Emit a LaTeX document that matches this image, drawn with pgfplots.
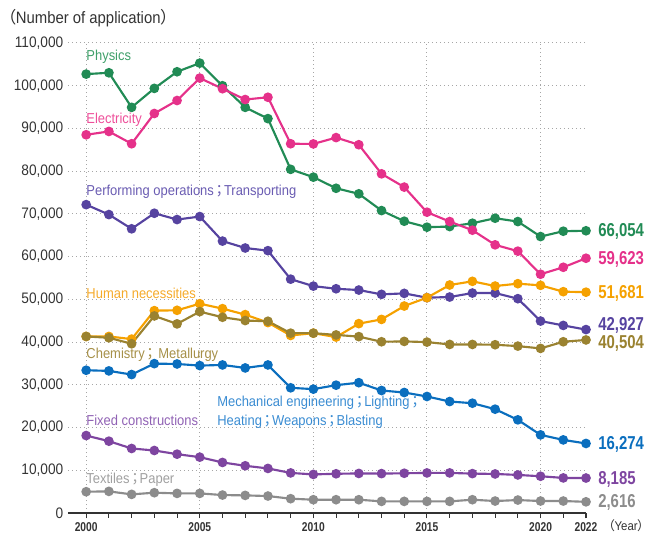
\documentclass[border=0pt]{standalone}
\usepackage{fontspec}
\setmainfont{Liberation Sans}[FakeStretch=0.9]
\newfontfamily\condb{Liberation Sans}[FakeStretch=0.8]
\newfontfamily\cjk{Noto Sans CJK JP}[RawFeature={+palt}]
\usepackage{pgfplots}
\pgfplotsset{compat=1.18}

\definecolor{cphys}{HTML}{218B55}
\definecolor{lphys}{HTML}{3FA06A}
\definecolor{celec}{HTML}{E5318A}
\definecolor{lelec}{HTML}{EE4F9A}
\definecolor{cperf}{HTML}{5643A0}
\definecolor{lperf}{HTML}{6A5CB2}
\definecolor{chum}{HTML}{F5A100}
\definecolor{lhum}{HTML}{F5AA2A}
\definecolor{cchem}{HTML}{9A8230}
\definecolor{lchem}{HTML}{A69048}
\definecolor{cmech}{HTML}{0A6EBE}
\definecolor{lmech}{HTML}{3A8CD2}
\definecolor{cfix}{HTML}{7E45A0}
\definecolor{lfix}{HTML}{9062B4}
\definecolor{ctex}{HTML}{8C8C8C}
\definecolor{ltex}{HTML}{A0A0A0}
\definecolor{axgray}{HTML}{333333}

\newcommand{\sep}{\hspace{0.12em}{\cjk ；}\hspace{0.08em}}

\begin{document}
\begin{tikzpicture}
\path[use as bounding box] (-51pt,-15pt) rectangle (437.25pt,384.75pt);
\begin{axis}[
  scale only axis,
  width=388.5pt, height=352.5pt,
  xmin=1999.2, xmax=2022,
  ymin=0, ymax=110000,
  clip=false,
  separate axis lines,
  axis x line*=bottom,
  axis y line*=left,
  x axis line style={-, draw=axgray, line width=1.1pt},
  y axis line style={draw=none},
  xtick={2000,2005,2010,2015,2020},
  xticklabels={2000,2005,2010,2015,2020},
  extra x ticks={2022},
  extra x tick labels={2022},
  extra x tick style={grid=none},
  minor xtick={2001,2002,2003,2004,2006,2007,2008,2009,2011,2012,2013,2014,2016,2017,2018,2019,2021},
  xtick align=outside,
  major tick length=4pt,
  minor tick length=3.5pt,
  every tick/.style={draw=axgray, line width=0.8pt},
  ytick={0,10000,20000,30000,40000,50000,60000,70000,80000,90000,100000,110000},
  yticklabels={0,{10,000},{20,000},{30,000},{40,000},{50,000},{60,000},{70,000},{80,000},{90,000},{100,000},{110,000}},
  ytick style={draw=none},
  xmajorgrids, ymajorgrids,
  major grid style={gray!70, line width=0.75pt, dash pattern=on 0.9pt off 2.1pt},
  x tick label style={font=\condb\bfseries\fontsize{9.6}{11}\selectfont, text=axgray},
  y tick label style={font=\fontsize{11.4}{13}\selectfont, text=axgray},
  scaled y ticks=false,
  every axis plot/.append style={line width=1.6pt, mark=*, mark size=2.8pt},
]
% Physics
\addplot[cphys, mark options={fill=cphys}] coordinates {
(2000,102720)(2001,103030)(2002,94940)(2003,99380)(2004,103270)(2005,105290)
(2006,100000)(2007,94940)(2008,92300)(2009,80430)(2010,78600)(2011,76000)
(2012,74700)(2013,70780)(2014,68290)(2015,66890)(2016,67040)(2017,67820)
(2018,68990)(2019,68210)(2020,64700)(2021,65950)(2022,66054)};
% Electricity
\addplot[celec, mark options={fill=celec}] coordinates {
(2000,88520)(2001,89300)(2002,86420)(2003,93500)(2004,96540)(2005,101790)
(2006,99300)(2007,96770)(2008,97300)(2009,86420)(2010,86380)(2011,87860)
(2012,86190)(2013,79380)(2014,76270)(2015,70400)(2016,68210)(2017,66190)
(2018,62760)(2019,61280)(2020,55880)(2021,57510)(2022,59623)};
% Performing operations; Transporting
\addplot[cperf, mark options={fill=cperf}] coordinates {
(2000,72170)(2001,69845)(2002,66510)(2003,70155)(2004,68680)(2005,69380)
(2006,63640)(2007,62020)(2008,61400)(2009,54730)(2010,53100)(2011,52480)
(2012,52180)(2013,51170)(2014,51400)(2015,50390)(2016,50550)(2017,51480)
(2018,51480)(2019,50160)(2020,44920)(2021,43900)(2022,42927)};
% Human necessities
\addplot[chum, mark options={fill=chum}] coordinates {
(2000,41320)(2001,41320)(2002,40700)(2003,47360)(2004,47440)(2005,48990)
(2006,47830)(2007,46430)(2008,44570)(2009,41550)(2010,42090)(2011,41170)
(2012,44320)(2013,45310)(2014,48440)(2015,50390)(2016,53360)(2017,54220)
(2018,53120)(2019,53670)(2020,53280)(2021,51800)(2022,51681)};
% Chemistry; Metallurgy
\addplot[cchem, mark options={fill=cchem}] coordinates {
(2000,41320)(2001,41010)(2002,39610)(2003,46120)(2004,44260)(2005,47130)
(2006,45810)(2007,45040)(2008,44880)(2009,42090)(2010,42090)(2011,41680)
(2012,41280)(2013,40080)(2014,40160)(2015,40000)(2016,39450)(2017,39450)
(2018,39380)(2019,39060)(2020,38520)(2021,40080)(2022,40504)};
% Mechanical engineering
\addplot[cmech, mark options={fill=cmech}] coordinates {
(2000,33410)(2001,33260)(2002,32400)(2003,34960)(2004,34880)(2005,34500)
(2006,34650)(2007,33950)(2008,34650)(2009,29300)(2010,28990)(2011,29920)
(2012,30500)(2013,28670)(2014,28200)(2015,27270)(2016,26090)(2017,25700)
(2018,24300)(2019,21800)(2020,18280)(2021,17110)(2022,16274)};
% Fixed constructions
\addplot[cfix, mark options={fill=cfix}] coordinates {
(2000,18130)(2001,16810)(2002,15100)(2003,14630)(2004,13770)(2005,13070)
(2006,11830)(2007,11050)(2008,10430)(2009,9380)(2010,9030)(2011,9180)
(2012,9260)(2013,9220)(2014,9300)(2015,9380)(2016,9380)(2017,9220)
(2018,9140)(2019,8910)(2020,8600)(2021,8210)(2022,8185)};
% Textiles; Paper
\addplot[ctex, mark options={fill=ctex}] coordinates {
(2000,4980)(2001,5060)(2002,4360)(2003,4750)(2004,4590)(2005,4590)
(2006,4200)(2007,4120)(2008,3970)(2009,3350)(2010,3110)(2011,3110)
(2012,3110)(2013,2720)(2014,2720)(2015,2720)(2016,2720)(2017,3110)
(2018,2800)(2019,3030)(2020,2800)(2021,2800)(2022,2616)};

% series names
\begin{scope}[every node/.style={anchor=west, inner sep=0pt, font=\fontsize{10.8}{12.5}\selectfont}]
\node[text=lphys] at (axis cs:2000,106700) {Physics};
\node[text=lelec] at (axis cs:2000,91960) {Electricity};
\node[text=lperf] at (axis cs:2000,75100) {Performing operations\sep Transporting};
\node[text=lhum] at (axis cs:2000,51480) {Human necessities};
\node[text=lchem] at (axis cs:2000,36970) {Chemistry\sep\ Metallurgy};
\node[text=lmech, align=left, font=\fontsize{10.8}{14.3}\selectfont] at (axis cs:2005.76,23520) {Mechanical engineering\sep Lighting\sep\\Heating\sep Weapons\sep Blasting};
\node[text=lfix] at (axis cs:2000,21760) {Fixed constructions};
\node[text=ltex] at (axis cs:2000,7720) {Textiles\sep Paper};
\end{scope}

% end values
\begin{scope}[every node/.style={anchor=west, inner sep=0pt, xshift=9pt, text height=10pt, text depth=1pt, font=\condb\bfseries\fontsize{14}{15}\selectfont}]
\node[text=cphys] at (axis cs:2022,66054) {66,054};
\node[text=celec] at (axis cs:2022,59623) {59,623};
\node[text=chum] at (axis cs:2022,51681) {51,681};
\node[text=cperf] at (axis cs:2022,44200) {42,927};
\node[text=cchem] at (axis cs:2022,39950) {40,504};
\node[text=cmech] at (axis cs:2022,16274) {16,274};
\node[text=cfix] at (axis cs:2022,8185) {8,185};
\node[text=ctex] at (axis cs:2022,2616) {2,616};
\end{scope}
\end{axis}
\node[anchor=west, inner sep=0pt, text=axgray, font=\fontsize{12.4}{14}\selectfont] at (-45.5pt,371pt) {{\cjk （}Number of application{\cjk ）}};
\node[anchor=west, inner sep=0pt, text=axgray, font=\fontsize{9.5}{11}\selectfont] at (405pt,-9.5pt) {{\cjk （}Year{\cjk ）}};
\end{tikzpicture}
\end{document}
